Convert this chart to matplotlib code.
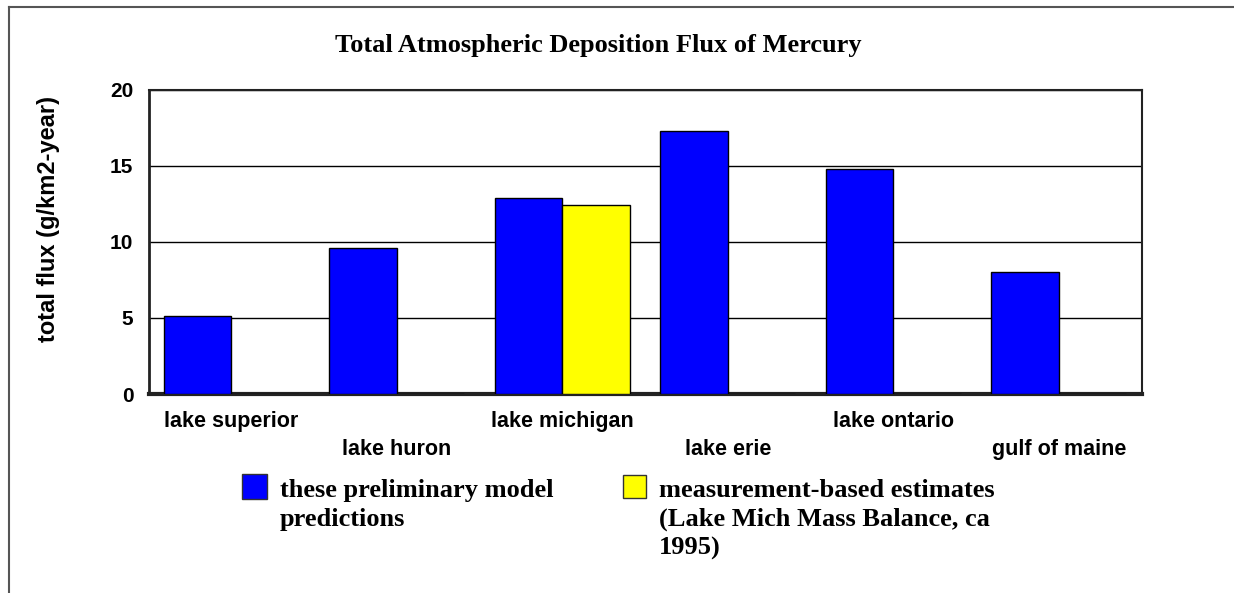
import matplotlib
matplotlib.use("Agg")
import matplotlib.pyplot as plt
from matplotlib.patches import Rectangle
from matplotlib.lines import Line2D
from matplotlib.transforms import blended_transform_factory
import numpy as np

# Data
sites = ["lake superior", "lake huron", "lake michigan", "lake erie",
         "lake ontario", "gulf of maine"]
model_flux = [5.1, 9.6, 12.9, 17.3, 14.8, 8.0]
measured_flux = [0, 0, 12.4, 0, 0, 0]
series_labels = ["these preliminary model\npredictions",
                 "measurement-based estimates\n(Lake Mich Mass Balance, ca\n1995)"]
series_colors = ["#0000FF", "#FFFF00"]
yticks = [0, 5, 10, 15, 20]

W, H = 1234, 593
fig = plt.figure(figsize=(W / 100, H / 100), dpi=100)
fig.patch.set_facecolor("white")


def fx(px):
    return px / W


def fy(py):
    return 1 - py / H


ax = fig.add_axes([fx(148.7), fy(394), fx(1141.7) - fx(148.7), fy(89.7) - fy(394)])

x = np.arange(len(sites))
bw = 0.408
ax.bar(x - bw / 2, model_flux, width=bw, color=series_colors[0],
       edgecolor="black", linewidth=1.0, zorder=3)
ax.bar(x + bw / 2, measured_flux, width=bw, color=series_colors[1],
       edgecolor="black", linewidth=1.0, zorder=3)

ax.set_xlim(-0.5, len(sites) - 0.5)
ax.set_ylim(0, 20)
ax.set_yticks(yticks)
ax.set_yticklabels([str(t) for t in yticks], fontfamily="Liberation Sans",
                   fontweight="bold", fontsize=15)
ax.tick_params(axis="y", length=0, pad=11)
ax.set_xticks([])
ax.yaxis.grid(True, color="black", linewidth=1.0, zorder=0)
ax.set_axisbelow(True)

for side in ["top", "right"]:
    ax.spines[side].set_linewidth(1.5)
ax.spines["left"].set_linewidth(2.0)
ax.spines["bottom"].set_linewidth(3.0)
for s in ax.spines.values():
    s.set_color("#222222")

# Staggered category labels
label_tf = blended_transform_factory(ax.transData, fig.transFigure)
for i, name in enumerate(sites):
    ypix = 427 if i % 2 == 0 else 455
    ax.text(i, fy(ypix), name, transform=label_tf,
            ha="center", va="baseline", fontfamily="Liberation Sans",
            fontweight="bold", fontsize=15.5)

# Title
fig.text(fx(598), fy(51.7), "Total Atmospheric Deposition Flux of Mercury",
         ha="center", va="baseline", fontfamily="Liberation Serif",
         fontweight="bold", fontsize=19)

# Y axis label
fig.text(fx(49), fy(219), "total flux (g/km2-year)", rotation=90,
         ha="center", va="center", fontfamily="Liberation Sans",
         fontweight="bold", fontsize=17)

# Legend
legend_boxes = [(242, 474, 25), (623, 475, 23)]
legend_text_x = [280, 659]
for (bx, by, bs), tx, lab, col in zip(legend_boxes, legend_text_x,
                                      series_labels, series_colors):
    fig.add_artist(Rectangle((fx(bx), fy(by + bs)), fx(bs), bs / H,
                             transform=fig.transFigure, facecolor=col,
                             edgecolor="#333333", linewidth=1.0))
    fig.text(fx(tx), fy(479), lab, ha="left", va="top",
             fontfamily="Liberation Serif", fontweight="bold", fontsize=19,
             linespacing=1.32)

# Outer frame lines
fig.add_artist(Line2D([fx(9), 1.0], [fy(7), fy(7)], transform=fig.transFigure,
                      color="#555555", linewidth=1.5))
fig.add_artist(Line2D([fx(9), fx(9)], [fy(7), 0.0], transform=fig.transFigure,
                      color="#555555", linewidth=1.5))

fig.savefig("out.png", dpi=100, facecolor="white")
